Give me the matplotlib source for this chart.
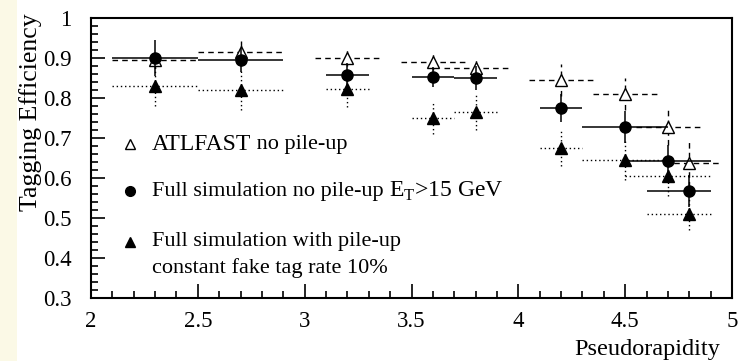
import matplotlib.pyplot as plt
import numpy as np
from matplotlib.patches import Rectangle
from matplotlib.ticker import MultipleLocator, FormatStrFormatter

plt.rcParams['font.family'] = ['Liberation Serif', 'DejaVu Serif']

# ATLFAST no pile-up (open triangles)
atl_x = [2.3, 2.7, 3.2, 3.6, 3.8, 4.2, 4.5, 4.7, 4.8]
atl_y = [0.895, 0.915, 0.900, 0.890, 0.875, 0.845, 0.810, 0.727, 0.636]
atl_xlo = [2.1, 2.5, 3.05, 3.45, 3.65, 4.05, 4.35, 4.55, 4.68]
atl_xhi = [2.5, 2.9, 3.35, 3.75, 3.95, 4.35, 4.65, 4.85, 4.95]
atl_yerr = [0.02, 0.035, 0.02, 0.02, 0.02, 0.04, 0.04, 0.045, 0.06]

# full simulation no pile-up (filled circles)
full_x = [2.3, 2.7, 3.2, 3.6, 3.8, 4.2, 4.5, 4.7, 4.8]
full_y = [0.898, 0.895, 0.857, 0.851, 0.848, 0.773, 0.727, 0.643, 0.566]
full_xlo = [2.1, 2.5, 3.1, 3.5, 3.7, 4.1, 4.3, 4.5, 4.6]
full_xhi = [2.5, 2.9, 3.3, 3.7, 3.9, 4.3, 4.7, 4.9, 4.9]
full_yerr = [0.045, 0.03, 0.03, 0.025, 0.03, 0.035, 0.04, 0.04, 0.04]

# full simulation with pile-up (filled triangles)
pu_x = [2.3, 2.7, 3.2, 3.6, 3.8, 4.2, 4.5, 4.7, 4.8]
pu_y = [0.828, 0.818, 0.822, 0.750, 0.765, 0.674, 0.645, 0.605, 0.510]
pu_xlo = [2.1, 2.5, 3.1, 3.5, 3.7, 4.1, 4.3, 4.5, 4.6]
pu_xhi = [2.5, 2.9, 3.3, 3.7, 3.9, 4.3, 4.7, 4.9, 4.9]
pu_yerr = [0.05, 0.05, 0.045, 0.04, 0.045, 0.045, 0.05, 0.05, 0.04]


def xerr(x, lo, hi):
    x = np.array(x)
    return [x - np.array(lo), np.array(hi) - x]


fig = plt.figure(figsize=(7.38, 3.61), dpi=100)
fig.patches.append(Rectangle((0, 0), 17 / 738, 1, transform=fig.transFigure,
                             facecolor='#fbf9e6', edgecolor='none', zorder=-1))
ax = fig.add_axes([0.1233, 0.1745, 0.8686, 0.777])

eb = ax.errorbar(pu_x, pu_y, xerr=xerr(pu_x, pu_xlo, pu_xhi), yerr=pu_yerr,
                 fmt='^', color='black', ms=8, elinewidth=1.0, capsize=0, zorder=3)
for b in eb[2]:
    b.set_linestyle((0, (1, 2)))

eb = ax.errorbar(atl_x, atl_y, xerr=xerr(atl_x, atl_xlo, atl_xhi), yerr=atl_yerr,
                 fmt='^', color='black', mfc='white', ms=8, mew=1.0,
                 elinewidth=1.0, capsize=0, zorder=4)
for b in eb[2]:
    b.set_linestyle((0, (4, 3)))

eb = ax.errorbar(full_x, full_y, xerr=xerr(full_x, full_xlo, full_xhi), yerr=full_yerr,
                 fmt='o', color='black', ms=8, elinewidth=1.1, capsize=0, zorder=5)

ax.set_xlim(2, 5)
ax.set_ylim(0.3, 1.0)
ax.xaxis.set_major_locator(MultipleLocator(0.5))
ax.xaxis.set_minor_locator(MultipleLocator(0.1))
ax.yaxis.set_major_locator(MultipleLocator(0.1))
ax.yaxis.set_minor_locator(MultipleLocator(0.02))
ax.xaxis.set_major_formatter(FormatStrFormatter('%g'))
ax.yaxis.set_major_formatter(FormatStrFormatter('%g'))
ax.tick_params(which='both', direction='in', top=False, right=False, width=1.2,
               labelsize=16.5)
ax.tick_params(which='major', length=10)
ax.tick_params(which='minor', length=5)
ax.tick_params(axis='y', pad=14)
ax.tick_params(axis='x', pad=9)
for s in ax.spines.values():
    s.set_linewidth(1.5)

ax.set_xlabel('Pseudorapidity', fontsize=17.5, loc='right')
ax.set_ylabel('Tagging Efficiency', fontsize=18.5, loc='top')
ax.xaxis.set_label_coords(0.981, -0.145)
ax.yaxis.set_label_coords(-0.077, 1.016)

# legend drawn by hand
mx, tx = 0.061, 0.095
ax.plot([mx], [0.549], '^', color='black', mfc='white', ms=7, mew=1.0, transform=ax.transAxes)
ax.plot([mx], [0.381], 'o', color='black', ms=7, transform=ax.transAxes)
ax.plot([mx], [0.200], '^', color='black', ms=7, transform=ax.transAxes)

t1 = ax.text(tx, 0.549, 'ATLFAST', fontsize=17, va='center', transform=ax.transAxes)
ax.annotate(' no pile-up', xy=(1, 0.5), xycoords=t1, va='center', fontsize=16)
t2 = ax.text(tx, 0.381, 'Full simulation no pile-up ', fontsize=16, va='center',
             transform=ax.transAxes)
ax.annotate(r'E$_\mathregular{T}$>15 GeV', xy=(1, 0.5), xycoords=t2, va='center', fontsize=17)
ax.text(tx, 0.200, 'Full simulation with pile-up', fontsize=16, va='center',
        transform=ax.transAxes)
ax.text(tx, 0.108, 'constant fake tag rate 10%', fontsize=16, va='center',
        transform=ax.transAxes)

fig.savefig('out.png', dpi=100)
